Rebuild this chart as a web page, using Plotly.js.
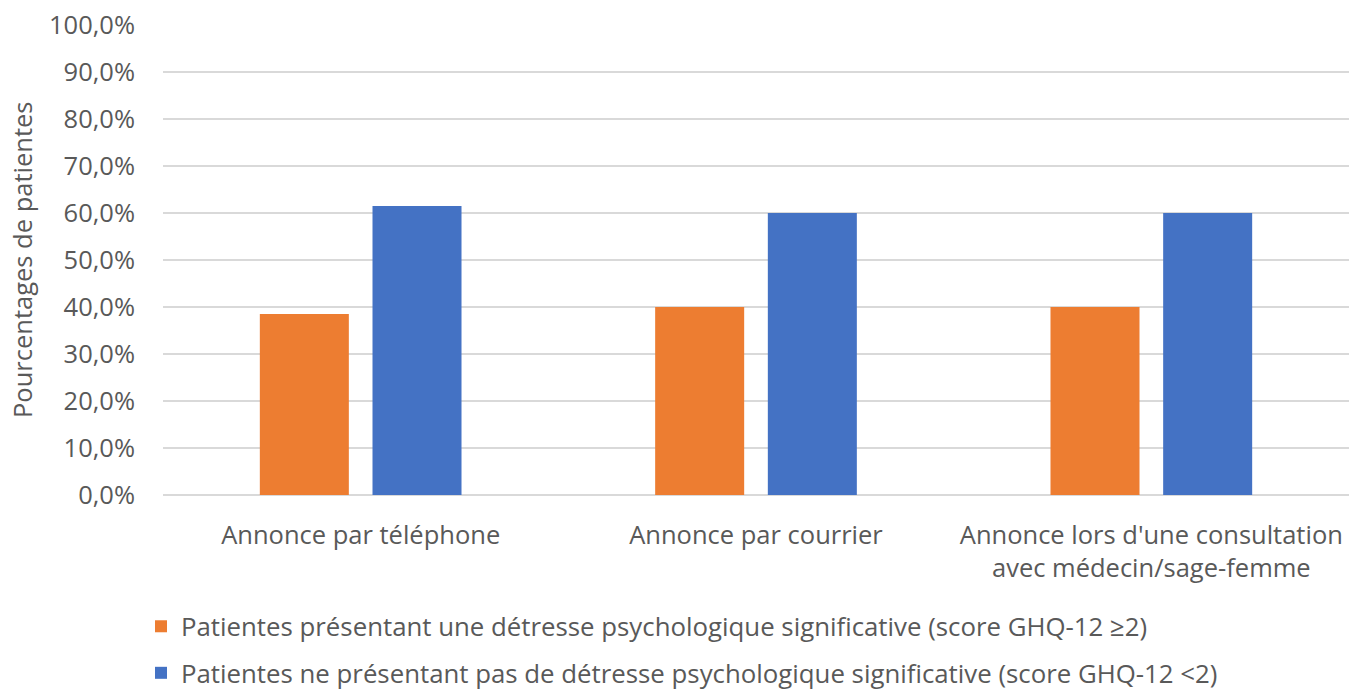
<!DOCTYPE html>
<html>
<head>
<meta charset="utf-8">
<script src="https://cdn.plot.ly/plotly-3.0.1.min.js"></script>
<style>html,body{margin:0;padding:0;background:#fff;}#chart{width:1349px;height:694px;}</style>
</head>
<body>
<div id="chart"></div>
<script>
var categories = ["Annonce par téléphone", "Annonce par courrier", "Annonce lors d'une consultation<br>avec médecin/sage-femme"];
var seriesNames = [
  "Patientes présentant une détresse psychologique significative (score GHQ-12 ≥2)",
  "Patientes ne présentant pas de détresse psychologique significative (score GHQ-12 <2)"
];
var distressValues = [38.5, 40.0, 40.0];
var noDistressValues = [61.5, 60.0, 60.0];
var yTickValues = [0, 10, 20, 30, 40, 50, 60, 70, 80, 90, 100];
var yTickLabels = ["0,0%", "10,0%", "20,0%", "30,0%", "40,0%", "50,0%", "60,0%", "70,0%", "80,0%", "90,0%", "100,0%"];
var yTitle = "Pourcentages de patientes";

var FONT = "Open Sans, sans-serif";
var GREY = "#595959";
var FS = 25.5;

var traces = [
  {type: "bar", x: categories, y: distressValues, name: seriesNames[0], marker: {color: "#ED7D31"}, legendgroup: "a", hoverinfo: "y"},
  {type: "bar", x: categories, y: noDistressValues, name: seriesNames[1], marker: {color: "#4472C4"}, legendgroup: "b", hoverinfo: "y"}
];

var layout = {
  width: 1349, height: 694,
  margin: {l: 163, r: 0, t: 25, b: 199, autoexpand: false},
  paper_bgcolor: "#fff", plot_bgcolor: "#fff",
  barmode: "group",
  bargap: 0.43,
  bargroupgap: 0.21,
  font: {family: FONT, color: GREY, size: FS},
  xaxis: {
    type: "category", automargin: false,
    showgrid: false, zeroline: false, showline: false,
    ticks: "", ticklabelstandoff: 22, tickfont: {family: FONT, size: FS, color: GREY}
  },
  yaxis: {
    range: [0, 100], tickvals: yTickValues, ticktext: yTickLabels, automargin: false,
    showgrid: true, gridcolor: "#D9D9D9", gridwidth: 1.3,
    zeroline: true, zerolinecolor: "#D9D9D9", zerolinewidth: 1.3,
    showline: false, ticks: "", ticklabelstandoff: 27,
    tickfont: {family: FONT, size: FS, color: GREY}
  },
  annotations: [{
    text: yTitle, xref: "paper", yref: "paper", x: (22 - 163) / 1186, y: 0.5,
    xanchor: "center", yanchor: "middle", textangle: -90, showarrow: false,
    font: {family: FONT, size: FS, color: GREY}
  }],
  showlegend: true,
  legend: {
    orientation: "v", xref: "container", yref: "container",
    x: 141 / 1349, xanchor: "left", y: 1 - 603 / 694, yanchor: "top",
    traceorder: "grouped", tracegroupgap: 10,
    font: {family: FONT, size: 25.8, color: GREY},
    bgcolor: "rgba(0,0,0,0)"
  }
};

Plotly.newPlot("chart", traces, layout, {displayModeBar: false, staticPlot: true});
</script>
</body>
</html>
